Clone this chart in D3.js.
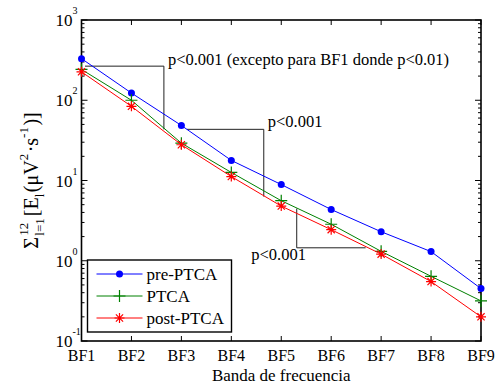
<!DOCTYPE html>
<html>
<head>
<meta charset="utf-8">
<script src="https://cdn.jsdelivr.net/npm/d3@7"></script>
<style>
  body { margin: 0; background: #fff; }
</style>
</head>
<body>
<div id="chart"></div>
<script>
// Data
const bands = ["BF1", "BF2", "BF3", "BF4", "BF5", "BF6", "BF7", "BF8", "BF9"];
const prePTCA  = [330, 123, 48.5, 17.8, 8.9, 4.35, 2.3, 1.3, 0.45];
const PTCA     = [242, 100, 29.2, 12.6, 5.6, 2.85, 1.31, 0.64, 0.316];
const postPTCA = [226, 84, 27.9, 11.2, 4.8, 2.44, 1.21, 0.55, 0.20];
const yTickExps = [-1, 0, 1, 2, 3];

// significance brackets: points as [band index, value]
const brackets = [
  { pts: [[0.07, 266], [1.65, 266], [1.65, 43.4]], label: "p<0.001 (excepto para BF1 donde p<0.01)", at: [1.73, 266] },
  { pts: [[2.11, 43.4], [3.65, 43.4], [3.65, 6.3]], label: "p<0.001", at: [3.73, 45] },
  { pts: [[4.31, 4.47], [4.31, 1.45], [5.69, 1.45]], label: "p<0.001", at: [3.4, 1.0] }
];

const series = [
  { name: "pre-PTCA", values: prePTCA, color: "#0000ff", marker: "dot" },
  { name: "PTCA", values: PTCA, color: "#008000", marker: "plus" },
  { name: "post-PTCA", values: postPTCA, color: "#ff0000", marker: "star" }
];

const W = 503, H = 385;
const margin = { top: 20, right: 22, bottom: 44, left: 81.5 };
const width = W - margin.left - margin.right;
const height = H - margin.top - margin.bottom;
const serif = "Liberation Serif";

const svg = d3.select("#chart").append("svg")
  .attr("width", W).attr("height", H)
  .attr("font-family", serif);
const g = svg.append("g")
  .attr("transform", `translate(${margin.left},${margin.top})`);

const x = d3.scaleLinear().domain([0, bands.length - 1]).range([0, width]);
const y = d3.scaleLog().domain([0.1, 1000]).range([height, 0]);

// minor ticks for the log axis
const minorTicks = [];
for (let e = -1; e < 3; e++) {
  for (let m = 2; m <= 9; m++) minorTicks.push(m * Math.pow(10, e));
}

const frame = g.append("g").attr("stroke", "#000").attr("fill", "none");
// y ticks, inward on both sides
yTickExps.forEach(e => {
  const yy = y(Math.pow(10, e));
  frame.append("line").attr("x1", 0).attr("x2", 6).attr("y1", yy).attr("y2", yy);
  frame.append("line").attr("x1", width).attr("x2", width - 6).attr("y1", yy).attr("y2", yy);
});
minorTicks.forEach(v => {
  const yy = y(v);
  frame.append("line").attr("x1", 0).attr("x2", 3).attr("y1", yy).attr("y2", yy);
  frame.append("line").attr("x1", width).attr("x2", width - 3).attr("y1", yy).attr("y2", yy);
});
// x ticks, inward on top and bottom
bands.forEach((b, i) => {
  frame.append("line").attr("x1", x(i)).attr("x2", x(i)).attr("y1", height).attr("y2", height - 5);
  frame.append("line").attr("x1", x(i)).attr("x2", x(i)).attr("y1", 0).attr("y2", 5);
});
frame.append("rect").attr("x", 0).attr("y", 0).attr("width", width).attr("height", height)
  .attr("stroke-width", 1.6);

// x tick labels
g.append("g").selectAll("text").data(bands).join("text")
  .attr("x", (d, i) => x(i)).attr("y", height + 20)
  .attr("text-anchor", "middle").attr("font-size", 16).text(d => d);

// y tick labels: 10 with superscript exponent
const yl = g.append("g");
yTickExps.forEach(e => {
  const yy = y(Math.pow(10, e));
  yl.append("text").attr("x", -9).attr("y", yy + 6)
    .attr("text-anchor", "end").attr("font-size", 17).text("10");
  yl.append("text").attr("x", -9).attr("y", yy - 6)
    .attr("font-size", 10).text(String(e));
});

// axis titles
g.append("text").attr("x", width / 2).attr("y", height + 40)
  .attr("text-anchor", "middle").attr("font-size", 17).text("Banda de frecuencia");

const yt = svg.append("g").attr("transform", `translate(38,${margin.top + height / 2}) rotate(-90)`);
const lab = yt.append("g").attr("font-size", 20);
let cx = 0;
const sig = lab.append("text").attr("x", 0).attr("y", 0).text("Σ");
cx += sig.node().getComputedTextLength() + 1.5;
const sup = lab.append("text").attr("x", cx).attr("y", -10).attr("font-size", 13).text("12");
const sub = lab.append("text").attr("x", cx).attr("y", 6).attr("font-size", 13).text("l=1");
cx += Math.max(sup.node().getComputedTextLength(), sub.node().getComputedTextLength()) + 2;
const parts = [
  ["[E", 0, 20], ["l", 6, 13], ["(μV", 0, 20], ["2", -10, 13], ["·s", 0, 20], ["-1", -10, 13], [")]", 0, 20]
];
parts.forEach(([t, dy, fs]) => {
  const el = lab.append("text").attr("x", cx).attr("y", dy).attr("font-size", fs).text(t);
  cx += el.node().getComputedTextLength() + (fs === 13 ? 1.5 : 0);
});
lab.attr("transform", `translate(${-cx / 2},0)`);

// brackets
const bl = d3.line().x(d => x(d[0])).y(d => y(d[1]));
brackets.forEach(b => {
  g.append("path").attr("d", bl(b.pts)).attr("fill", "none")
    .attr("stroke", "#222").attr("stroke-width", 1);
  g.append("text").attr("x", x(b.at[0])).attr("y", y(b.at[1]) - 1)
    .attr("font-size", 16.5).text(b.label);
});

// markers
function drawMarker(sel, type, color) {
  if (type === "dot") {
    sel.append("circle").attr("r", 3.5).attr("fill", color);
  } else if (type === "plus") {
    sel.append("path").attr("d", "M-6,0H6M0,-6V6").attr("stroke", color).attr("stroke-width", 1.2);
  } else {
    sel.append("path").attr("d", "M-5,0H5M0,-5V5M-3.6,-3.6L3.6,3.6M-3.6,3.6L3.6,-3.6")
      .attr("stroke", color).attr("stroke-width", 1.2);
  }
}

const line = d3.line().x((d, i) => x(i)).y(d => y(d));
series.forEach(s => {
  g.append("path").attr("d", line(s.values)).attr("fill", "none")
    .attr("stroke", s.color).attr("stroke-width", 1);
  s.values.forEach((v, i) => {
    drawMarker(g.append("g").attr("transform", `translate(${x(i)},${y(v)})`), s.marker, s.color);
  });
});

// legend
const lg = svg.append("g").attr("transform", "translate(87.5,260)");
lg.append("rect").attr("width", 144).attr("height", 72)
  .attr("fill", "#fff").attr("stroke", "#000").attr("stroke-width", 1.4);
series.forEach((s, i) => {
  const row = lg.append("g").attr("transform", `translate(0,${14 + i * 22})`);
  row.append("line").attr("x1", 9).attr("x2", 55).attr("stroke", s.color).attr("stroke-width", 1);
  drawMarker(row.append("g").attr("transform", "translate(32,0)"), s.marker, s.color);
  row.append("text").attr("x", 59).attr("y", 5.5).attr("font-size", 17).text(s.name);
});
</script>
</body>
</html>
